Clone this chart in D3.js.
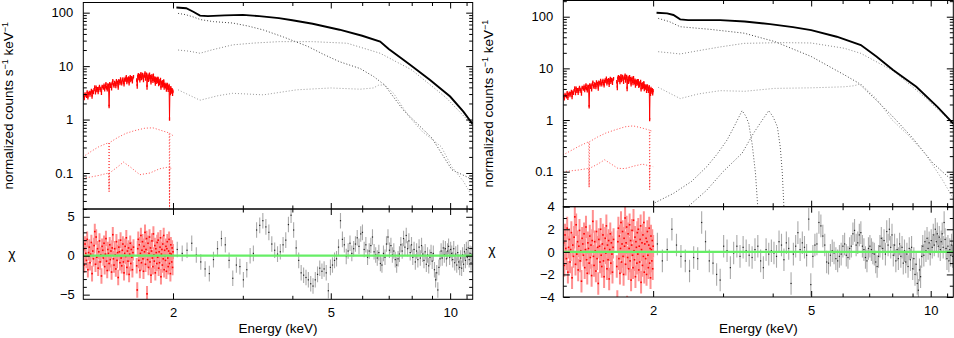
<!DOCTYPE html>
<html>
<head>
<meta charset="utf-8">
<script src="https://cdn.jsdelivr.net/npm/d3@7"></script>
<style>
  body { margin: 0; background: #fff; }
  svg { display: block; font-family: "Liberation Sans", Arial, Helvetica, sans-serif; }
</style>
</head>
<body>
<svg id="chart" width="954" height="338"></svg>
<script>
// ---------- data ----------
const xDomain = [1.188, 11.4];
const xTickVals = [2, 5, 10];
const xMinorVals = [3, 4, 6, 7, 8, 9, 11];

// red (low energy) channels: 1.19 keV, step 0.005 keV; black channels: 2.05 keV, step 0.06 keV
const redStart = 1.19, redStep = 0.005;
const blackStart = 2.05, blackStep = 0.06;

// red residuals (chi), null = no data
const redChi = [
  0.8,-1.2,1.5,0.3,-0.6,2.1,-1.8,0.4,1.1,-0.9,0.2,1.7,-2.3,0.6,-0.4,1.3,3.1,-1.1,2.4,-0.2,
  0.9,-1.6,0.5,1.9,-0.8,0.1,-2.6,1.2,0.7,-0.3,1.6,-1.4,0.2,2.2,-0.7,-1.9,0.8,0.3,-1.0,1.4,
  -0.5,0.6,-2.1,1.0,2.7,-0.4,-1.2,0.9,0.1,-1.7,1.8,-0.6,0.4,-2.8,1.1,0.5,-0.9,2.0,-0.3,-1.3,
  0.7,1.5,-0.8,-2.2,0.3,1.2,-0.1,2.3,-1.5,0.6,-0.7,1.0,-2.4,0.2,1.6,-1.0,0.8,-0.2,-1.8,0.4,
  1.1,null,null,null,null,null,-1.3,-4.4,0.9,2.1,
  -0.6,1.4,-1.9,0.3,2.6,-0.9,0.7,1.8,-0.4,-2.0,1.2,0.5,3.0,-1.1,0.8,2.2,-4.9,-0.5,1.6,-1.5,
  0.3,2.4,-0.8,1.0,-2.5,0.6,1.9,-0.3,-1.4,2.8,0.1,-0.7,1.3,-2.2,0.9,0.4,-1.0,1.7,-0.2,2.0,
  -1.6,0.5,-0.9,1.1,2.3,-2.7,0.2,0.8,-1.2,1.5,-0.4,2.6,-1.8,0.7,0.0,-0.6,1.2,-2.0,0.9,1.8,
  -0.3,-1.4,0.6,2.1,-1.0,0.3,-2.3,1.4,0.2,-0.8,1.0,-1.5,0.5
];

// black residuals, left fit
const chiLeft = [
  0.8,0.3,0.7,1.6,0.1,
  -0.8,-1.7,-2.3,-0.5,0.9,2.2,1.4,-0.6,-2.9,
  -1.2,-1.4,-3.1,-1.8,0.0,0.3,3.3,3.9,4.5,3.7,3.0,1.5,0.7,0.2,0.5,1.4,2.0,4.0,5.2,3.3,1.0,
  -0.6,-2.2,-2.5,-2.8,-3.1,-3.6,-3.9,-3.1,-2.4,-1.6,-2.0,-1.7,-2.2,-4.5,-1.5,-1.2,-0.6,-0.4,
  1.1,4.5,2.1,1.4,-0.1,0.6,1.6,0.3,0.9,1.5,2.3,1.2,2.8,3.0,0.8,1.4,-0.2,0.6,1.3,2.4,0.5,0.1,
  -0.3,0.4,-1.0,-1.2,0.3,-0.2,1.5,2.4,0.7,1.3,0.1,0.6,-0.5,-1.2,-0.4,
  0.2,1.4,0.6,2.2,1.1,2.6,0.9,1.9,0.4,1.4,-0.2,0.8,-0.8,0.6,-0.5,1.1,-0.3,1.3,0.2,-0.6,
  0.5,-1.1,0.1,-1.3,-0.2,0.4,-0.7,0.3,-1.8,-3.1,-2.2,-4.4,-1.5,-0.4,0.6,-0.3,1.0,0.1,0.9,-0.4,
  0.6,1.2,-0.2,0.8,0.3,-0.5,0.9,-0.9,0.2,-1.2,0.4,-0.8,-1.5,-0.3,-1.6,0.1,-1.1,0.5,-0.6,0.8,
  -0.2,1.0,-0.5,0.3,-0.9,0.2
];

// black residuals, right fit
const chiRight = [
  0.7,-0.8,0.2,2.0,0.6,
  -0.4,-0.8,-1.7,-0.5,-0.6,2.6,0.9,-0.8,-1.0,
  -2.0,-2.5,0.5,0.1,-1.4,-0.1,0.5,-0.4,0.4,0.1,-0.3,-0.5,0.2,0.5,-0.8,-1.4,0.2,-0.2,0.1,-0.1,-0.4,
  0.9,0.6,-0.7,0.8,0.3,-2.8,-0.2,0.5,1.7,0.2,0.8,0.4,-0.3,2.9,-2.9,-0.4,0.6,0.7,
  2.6,2.3,1.4,0.6,-0.9,-1.0,-0.3,0.1,-0.1,-0.6,-0.8,-0.4,-0.2,0.5,0.7,-0.3,-0.5,0.3,0.5,1.6,1.9,0.6,
  0.8,1.5,1.7,0.5,0.2,-0.5,-0.8,0.3,0.5,0.2,-0.1,-0.2,-0.9,-1.3,-0.4,
  0.5,1.2,0.3,1.0,-0.2,1.8,0.6,2.0,0.4,1.5,-0.3,0.6,-0.8,0.2,-0.6,0.7,-0.4,0.4,-1.0,0.1,
  -0.9,-0.2,-1.3,0.3,-0.7,0.4,-1.5,-0.6,-2.0,-1.1,-2.8,-3.4,-1.6,-2.2,-0.4,0.5,-0.3,0.9,0.1,1.2,
  0.3,0.8,-0.2,1.0,0.4,1.5,0.6,2.0,0.9,1.6,0.5,1.3,0.2,0.9,1.6,0.4,2.6,1.1,0.3,-0.6,
  0.5,-0.8,0.2,-0.3,0.6,-0.4
];

// model curves [keV, counts s^-1 keV^-1]
const redDataLeft = [[1.185,2.65],[1.25,3.2],[1.3,3.7],[1.378,4.3],[1.38,1.9],[1.382,4.3],[1.45,4.9],[1.52,5.5],[1.6,6.0],[1.68,6.3],[1.75,6.1],[1.82,5.4],[1.9,4.5],[1.958,3.8],[1.96,1.1],[1.962,3.8],[2.0,3.3]];
const redHiLeft = [[1.185,0.2],[1.25,0.26],[1.3,0.31],[1.377,0.37],[1.38,0.045],[1.383,0.37],[1.45,0.46],[1.52,0.55],[1.6,0.62],[1.7,0.69],[1.78,0.7],[1.85,0.64],[1.957,0.56],[1.96,0.02],[1.963,0.55],[2.0,0.5]];
const redLoLeft = [[1.185,0.08],[1.25,0.085],[1.3,0.09],[1.377,0.1],[1.38,0.045],[1.383,0.1],[1.45,0.13],[1.5,0.16],[1.56,0.13],[1.65,0.093],[1.75,0.1],[1.85,0.12],[1.957,0.13],[1.96,0.02],[1.963,0.125],[2.0,0.12]];
const totalLeft = [[2.04,125],[2.16,121],[2.25,104],[2.34,88],[2.45,86],[2.7,89],[3.0,91],[3.3,86],[3.7,79],[4.0,72],[4.5,62],[5.26,48],[6.0,37],[6.66,28.8],[7.0,21],[7.62,13.1],[8.0,10],[8.9,5.5],[10,2.7],[10.8,1.41],[11.4,0.82]];
const softLeft = [[2.06,97],[2.15,92],[2.24,84],[2.35,74],[2.53,68],[2.83,64],[3.1,56],[3.38,47.5],[3.8,35],[4.38,23.3],[4.8,16.5],[5.26,12.1],[5.93,9.0],[6.41,6.4],[6.83,4.45],[7.61,1.52],[9.0,0.45],[10.1,0.115],[11.2,0.08],[11.4,0.075]];
const comptLeft = [[2.06,20],[2.2,19],[2.34,17.4],[2.5,20],[2.83,25],[3.2,27],[3.71,28.7],[4.49,28.7],[5.5,26.8],[6.66,17.4],[8.0,8.5],[9.75,2.6],[11.4,0.78]];
const reflLeft = [[2.06,3.6],[2.34,2.3],[2.6,2.8],[2.83,3.1],[3.38,2.9],[4.1,3.6],[5.0,3.9],[5.93,3.7],[6.4,3.9],[6.6,4.4],[6.83,4.45],[7.2,3.1],[7.87,1.14],[8.5,0.6],[9.5,0.31],[10.1,0.13],[10.8,0.07],[11.4,0.035]];

const redDataRight = [[1.185,2.75],[1.25,3.3],[1.3,3.8],[1.378,4.4],[1.38,1.95],[1.382,4.4],[1.45,5.0],[1.52,5.6],[1.6,6.0],[1.68,6.3],[1.75,6.0],[1.82,5.3],[1.9,4.5],[1.958,3.9],[1.96,1.1],[1.962,3.85],[2.0,3.6]];
const redHiRight = [[1.185,0.21],[1.3,0.31],[1.377,0.38],[1.38,0.05],[1.383,0.38],[1.45,0.47],[1.52,0.56],[1.6,0.64],[1.7,0.74],[1.78,0.77],[1.85,0.72],[1.957,0.64],[1.96,0.045],[1.963,0.63],[2.0,0.6]];
const redLoRight = [[1.185,0.1],[1.3,0.108],[1.377,0.116],[1.38,0.05],[1.383,0.116],[1.45,0.14],[1.51,0.17],[1.57,0.14],[1.63,0.116],[1.7,0.115],[1.8,0.13],[1.88,0.14],[1.957,0.13],[1.96,0.045],[1.963,0.13],[2.0,0.125]];
const totalRight = [[2.04,119],[2.17,116],[2.25,108],[2.34,89],[2.45,86],[2.95,86],[3.4,81],[3.94,72],[4.5,63],[5.0,55],[5.8,41],[6.67,28.3],[7.3,17],[8.04,9.3],[9.2,4.4],[10.4,1.8],[11.4,0.85]];
const softRight = [[2.06,93],[2.2,80],[2.34,64],[2.78,57],[3.39,48],[4.05,33],[5.0,17],[6.06,7.5],[6.58,5.2],[7.3,2.4],[8.0,1.2],[9.0,0.45],[10.1,0.15],[10.7,0.1],[11.4,0.065]];
const comptRight = [[2.06,21],[2.2,20],[2.34,19],[2.6,22],[2.95,26],[3.39,30.5],[4.2,31.5],[5.0,31],[6.06,24.5],[6.67,19.5],[8.04,9],[9.7,2.7],[11.4,0.84]];
const reflRight = [[2.06,4.3],[2.34,2.6],[2.6,3.2],[2.95,3.7],[3.4,3.6],[4.05,4.1],[5.0,4.2],[6.06,4.4],[6.4,4.6],[6.67,5.0],[7.33,2.5],[8.0,1.0],[8.8,0.5],[9.7,0.22],[10.7,0.07],[11.4,0.03]];
const lineOneRight = [[2.02,0.025],[2.25,0.038],[2.5,0.065],[2.73,0.125],[2.9,0.22],[3.07,0.41],[3.2,0.75],[3.35,1.52],[3.42,1.2],[3.48,0.87],[3.55,0.35],[3.62,0.094],[3.67,0.02]];
const lineTwoRight = [[2.43,0.02],[2.73,0.044],[3.0,0.1],[3.35,0.228],[3.58,0.556],[3.75,0.95],[3.91,1.52],[4.01,1.15],[4.11,0.745],[4.18,0.3],[4.23,0.094],[4.27,0.02]];

// ---------- layout ----------
const panels = [
  { x0: 83.3, x1: 472.7, top: 2.5, mid: 209, bot: 299.3,
    yDom: [0.0212, 155], rDom: [-5.6, 6], rTicks: [-5, 0, 5],
    redData: redDataLeft, redHi: redHiLeft, redLo: redLoLeft, total: totalLeft,
    comps: [[softLeft, "#444"], [comptLeft, "#888"], [reflLeft, "#999"]],
    chi: chiLeft, labelX: 13, chiY: 255.7 },
  { x0: 563.3, x1: 953.3, top: 0.5, mid: 206.7, bot: 297,
    yDom: [0.021, 206], rDom: [-4, 4], rTicks: [-4, -2, 0, 2, 4],
    redData: redDataRight, redHi: redHiRight, redLo: redLoRight, total: totalRight,
    comps: [[softRight, "#444"], [comptRight, "#888"], [reflRight, "#999"],
            [lineOneRight, "#555"], [lineTwoRight, "#555"]],
    chi: chiRight, labelX: 493, chiY: 252 }
];

const svg = d3.select("#chart");
const defs = svg.append("defs");

// log-log interpolation on a model curve
function interpLog(pts, e) {
  for (let i = 1; i < pts.length; i++) {
    if (e <= pts[i][0]) {
      const a = pts[i - 1], b = pts[i];
      const t = (Math.log(e) - Math.log(a[0])) / (Math.log(b[0]) - Math.log(a[0]));
      return Math.exp(Math.log(a[1]) + t * (Math.log(b[1]) - Math.log(a[1])));
    }
  }
  return pts[pts.length - 1][1];
}

function minorLog(dom) {
  const out = [];
  for (let k = -2; k <= 2; k++)
    for (let m = 2; m <= 9; m++) {
      const v = m * Math.pow(10, k);
      if (v > dom[0] && v < dom[1]) out.push(v);
    }
  return out;
}

function styleAxis(g) {
  g.attr("font-family", null).attr("font-size", 13);
  g.select(".domain").remove();
  g.selectAll("line").attr("stroke", "#000");
  g.selectAll("text").attr("fill", "#000");
}

const fmtMinus = d => d < 0 ? "\u2212" + (-d) : String(d);
const relErr = 0.07;

function drawPanel(p, idx) {
  const x = d3.scaleLog().domain(xDomain).range([p.x0, p.x1]);
  const y = d3.scaleLog().domain(p.yDom).range([p.mid, p.top]);
  const yr = d3.scaleLinear().domain(p.rDom).range([p.bot, p.mid]);

  defs.append("clipPath").attr("id", "cu" + idx).append("rect")
    .attr("x", p.x0).attr("y", p.top).attr("width", p.x1 - p.x0).attr("height", p.mid - p.top);
  defs.append("clipPath").attr("id", "cl" + idx).append("rect")
    .attr("x", p.x0).attr("y", p.mid).attr("width", p.x1 - p.x0).attr("height", p.bot - p.mid);

  const up = svg.append("g").attr("clip-path", `url(#cu${idx})`);
  const lo = svg.append("g").attr("clip-path", `url(#cl${idx})`);
  const line = d3.line().x(d => x(d[0])).y(d => y(d[1]));

  // model components (dotted)
  p.comps.forEach(([pts, col]) => {
    up.append("path").attr("d", line(pts)).attr("fill", "none")
      .attr("stroke", col).attr("stroke-width", 1).attr("stroke-dasharray", "1,2");
  });
  [p.redHi, p.redLo].forEach(pts => {
    up.append("path").attr("d", line(pts)).attr("fill", "none")
      .attr("stroke", "#ff3030").attr("stroke-width", 1).attr("stroke-dasharray", "1,2")
      .attr("opacity", 0.85);
  });

  // red data with error bars
  const reds = [];
  redChi.forEach((c, i) => {
    if (c === null) return;
    const e = redStart + i * redStep;
    const m = interpLog(p.redData, e);
    reds.push({ e, c, m, i });
  });
  up.append("g").selectAll("line").data(reds).join("line")
    .attr("x1", d => x(d.e)).attr("x2", d => x(d.e))
    .attr("y1", d => y(d.m * (1 + (d.c - 1) * relErr)))
    .attr("y2", d => y(d.m * (1 + (d.c + 1) * relErr)))
    .attr("stroke", "#ff0000").attr("stroke-width", 1.3);
  // join neighbouring channels (gives the deep single-channel dips their vertical stroke)
  up.append("path")
    .attr("d", d3.line().defined(d => d !== null)
      .x(d => x(d.e)).y(d => y(d.m * (1 + d.c * relErr)))(
        redChi.map((c, i) => c === null ? null : reds.find(r => r.i === i))))
    .attr("fill", "none").attr("stroke", "#ff0000").attr("stroke-width", 1);

  // black data / total model
  up.append("path").attr("d", line(p.total)).attr("fill", "none")
    .attr("stroke", "#000").attr("stroke-width", 1.9);

  // residuals
  lo.append("g").selectAll("line").data(reds).join("line")
    .attr("x1", d => x(d.e)).attr("x2", d => x(d.e))
    .attr("y1", d => yr(d.c - 1)).attr("y2", d => yr(d.c + 1))
    .attr("stroke", "#ff9090").attr("stroke-width", 2);
  lo.append("g").selectAll("rect").data(reds).join("rect")
    .attr("x", d => x(d.e) - 0.8).attr("y", d => yr(d.c) - 0.8)
    .attr("width", 1.6).attr("height", 1.6).attr("fill", "#ff0000");

  const blacks = p.chi.map((c, i) => ({ e: blackStart + i * blackStep, c }));
  lo.append("g").selectAll("line").data(blacks).join("line")
    .attr("x1", d => x(d.e)).attr("x2", d => x(d.e))
    .attr("y1", d => yr(d.c - 1)).attr("y2", d => yr(d.c + 1))
    .attr("stroke", "#aaaaaa").attr("stroke-width", 1.1);
  lo.append("g").selectAll("rect").data(blacks).join("rect")
    .attr("x", d => x(d.e) - 0.6).attr("y", d => yr(d.c) - 0.6)
    .attr("width", 1.2).attr("height", 1.2).attr("fill", "#222");

  lo.append("line").attr("x1", p.x0).attr("x2", p.x1)
    .attr("y1", yr(0)).attr("y2", yr(0))
    .attr("stroke", "#66ee66").attr("stroke-width", 2.2);

  // frames
  [[p.top, p.mid], [p.mid, p.bot]].forEach(([a, b]) => {
    svg.append("rect").attr("x", p.x0).attr("y", a).attr("width", p.x1 - p.x0).attr("height", b - a)
      .attr("fill", "none").attr("stroke", "#000").attr("stroke-width", 1);
  });

  // x ticks on every horizontal edge, inward
  const xEdges = [[p.top, d3.axisTop], [p.mid, d3.axisBottom], [p.mid, d3.axisTop], [p.bot, d3.axisBottom]];
  xEdges.forEach(([yy, ax]) => {
    svg.append("g").attr("transform", `translate(0,${yy})`)
      .call(ax(x).tickValues(xTickVals).tickSize(-6).tickFormat("")).call(styleAxis);
    svg.append("g").attr("transform", `translate(0,${yy})`)
      .call(ax(x).tickValues(xMinorVals).tickSize(-3.5).tickFormat("")).call(styleAxis);
  });
  svg.append("g").attr("transform", `translate(0,${p.bot})`)
    .call(d3.axisBottom(x).tickValues(xTickVals).tickSize(0).tickPadding(8.5).tickFormat(d3.format("d")))
    .call(styleAxis);

  // upper y axes
  svg.append("g").attr("transform", `translate(${p.x0},0)`)
    .call(d3.axisLeft(y).tickValues([0.1, 1, 10, 100]).tickSize(-6.5).tickPadding(10).tickFormat(d => String(d)))
    .call(styleAxis);
  svg.append("g").attr("transform", `translate(${p.x0},0)`)
    .call(d3.axisLeft(y).tickValues(minorLog(p.yDom)).tickSize(-3.5).tickFormat("")).call(styleAxis);
  svg.append("g").attr("transform", `translate(${p.x1},0)`)
    .call(d3.axisRight(y).tickValues([0.1, 1, 10, 100]).tickSize(-6.5).tickFormat("")).call(styleAxis);
  svg.append("g").attr("transform", `translate(${p.x1},0)`)
    .call(d3.axisRight(y).tickValues(minorLog(p.yDom)).tickSize(-3.5).tickFormat("")).call(styleAxis);

  // residual y axes
  const rMinor = d3.range(Math.ceil(p.rDom[0]), Math.floor(p.rDom[1]) + 1).filter(v => !p.rTicks.includes(v));
  svg.append("g").attr("transform", `translate(${p.x0},0)`)
    .call(d3.axisLeft(yr).tickValues(p.rTicks).tickSize(-6.5).tickPadding(8.5).tickFormat(fmtMinus))
    .call(styleAxis);
  svg.append("g").attr("transform", `translate(${p.x0},0)`)
    .call(d3.axisLeft(yr).tickValues(rMinor).tickSize(-3.5).tickFormat("")).call(styleAxis);
  svg.append("g").attr("transform", `translate(${p.x1},0)`)
    .call(d3.axisRight(yr).tickValues(p.rTicks).tickSize(-6.5).tickFormat("")).call(styleAxis);
  svg.append("g").attr("transform", `translate(${p.x1},0)`)
    .call(d3.axisRight(yr).tickValues(rMinor).tickSize(-3.5).tickFormat("")).call(styleAxis);

  // titles
  const yl = svg.append("text")
    .attr("transform", `translate(${p.labelX},${(p.top + p.mid) / 2}) rotate(-90)`)
    .attr("text-anchor", "middle").attr("font-size", 13.5).attr("fill", "#000");
  yl.append("tspan").text("normalized counts s");
  yl.append("tspan").attr("font-size", 9).attr("dy", -5).text("\u22121");
  yl.append("tspan").attr("dy", 5).text(" keV");
  yl.append("tspan").attr("font-size", 9).attr("dy", -5).text("\u22121");

  svg.append("text")
    .attr("x", p.labelX - 1).attr("y", p.chiY + 3)
    .attr("text-anchor", "middle").attr("font-size", 14).attr("fill", "#000")
    .text("\u03c7");

  svg.append("text").attr("x", (p.x0 + p.x1) / 2).attr("y", 332.5)
    .attr("text-anchor", "middle").attr("font-size", 13.5).attr("fill", "#000")
    .text("Energy (keV)");
}

panels.forEach(drawPanel);
</script>
</body>
</html>
